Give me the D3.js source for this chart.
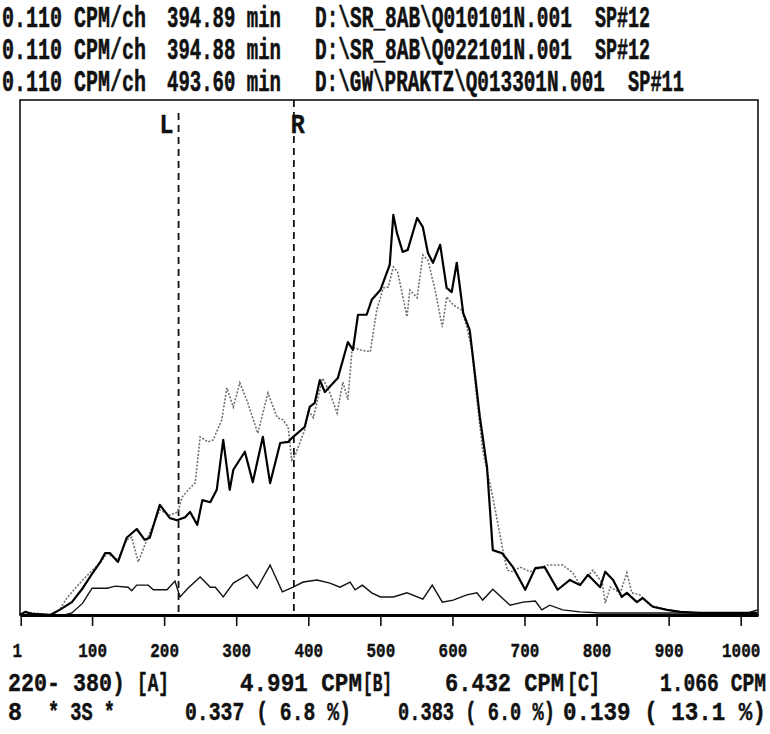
<!DOCTYPE html>
<html><head><meta charset="utf-8">
<script src="https://cdn.jsdelivr.net/npm/d3@7"></script>
<style>body{margin:0;background:#fff}svg{display:block}</style>
</head><body>
<svg id="c" width="770" height="734"></svg>
<script>
// ---------- data ----------
const headerRates   = ["0.110 CPM/ch", "0.110 CPM/ch", "0.110 CPM/ch"];
const headerTimes   = ["394.89 min", "394.88 min", "493.60 min"];
const headerFiles   = ["D:\\SR_8AB\\Q010101N.001", "D:\\SR_8AB\\Q022101N.001", "D:\\GW\\PRAKTZ\\Q013301N.001"];
const headerSpectra = ["SP#12", "SP#12", "SP#11"];

const tickValues = [1, 100, 200, 300, 400, 500, 600, 700, 800, 900, 1000];
const roiL = 220, roiR = 380;

const mainCh = [0,7,17,42,55,72,87,101,111,118,125,136,148,162,173,180,194,208,218,229,236,246,253,264,273,282,291,296,312,323,337,347,361,372,379,395,402,409,416,423,441,455,462,469,481,488,500,513,518,523,531,538,551,559,566,573,583,592,599,606,615,624,631,638,648,656,669,684,701,715,728,746,763,777,788,805,812,823,835,842,856,864,878,898,916,944,1023];
const mainCounts = [0,0.6,0.2,0,1.0,2.5,5.2,8.2,10.2,12.0,12.0,10.3,15.0,16.7,14.6,15.0,21.4,18.8,18.4,19.0,20.0,17.5,22.3,21.9,24.3,34.0,24.3,28.2,31.7,25.8,34.6,25.6,33.4,33.6,34.6,36.5,40.4,41.2,45.6,43.3,46.0,53.0,51.5,58.3,58.3,61.2,63.1,68.0,77.7,74.2,70.5,70.9,77.1,75.3,70.3,68.4,71.9,63.5,62.7,68.4,58.6,55.3,47.0,38.5,28.7,12.6,12.0,9.3,4.9,9.1,9.3,4.9,6.8,5.8,7.8,5.4,8.4,6.8,3.5,4.3,2.5,3.3,1.6,1.0,0.6,0.4,0.4];

const dupCh = [0,7,42,55,65,83,97,111,121,136,148,155,164,176,194,208,219,225,236,243,250,261,268,280,287,296,305,316,330,344,357,365,372,377,382,386,395,400,407,420,430,440,448,455,461,472,486,495,504,511,518,524,537,541,551,559,566,576,586,592,601,613,620,627,634,642,656,670,676,684,694,708,731,753,767,777,795,808,812,819,833,842,849,860,874,898,930,1023];
const dupCounts = [0,0.6,0,1.0,3.3,6.2,8.2,10.1,12.0,10.7,14.6,15.1,10.3,14.6,20.4,19.4,20.0,22.9,24.7,25.6,34.6,33.6,34.0,37.9,44.1,40.4,45.1,41.2,35.3,43.1,38.3,37.9,36.5,30.1,31.1,32.6,35.9,39.8,38.3,46.0,43.1,39.2,45.2,41.8,52.0,51.5,51.1,59.2,63.5,63.7,67.6,66.6,57.9,63.1,61.6,69.9,68.9,63.1,55.9,61.8,60.2,59.2,55.9,51.5,41.8,32.0,22.9,12.6,8.7,8.4,9.3,8.4,9.7,9.7,8.2,5.8,8.7,6.2,2.3,5.4,4.3,8.2,4.3,3.9,1.9,1.0,0.4,0.4];

const bkgCh = [0,7,17,62,72,87,100,121,132,150,155,162,178,185,204,215,222,233,250,264,271,282,296,315,329,347,364,379,393,412,430,444,458,465,475,488,500,518,537,559,572,586,601,620,634,642,656,680,698,715,724,735,753,777,805,1010,1023];
const bkgCounts = [0,0.6,0.2,0,0.4,2.3,5.2,5.2,5.6,5.4,4.7,5.8,5.8,4.9,4.9,6.6,3.5,5.2,7.4,5.4,5.4,3.5,6.2,7.8,5.2,9.7,4.5,5.4,6.4,6.8,6.2,5.4,6.4,4.9,5.8,4.3,3.5,3.5,4.3,3.1,5.8,2.5,2.9,3.9,4.3,2.9,5.0,1.9,2.5,2.7,1.0,1.9,1.0,0.6,0.4,0.4,1.0];

const roiRange  = "220- 380)";
const roiLabels = ["[A]", "[B]", "[C]"];
const roiRates  = ["4.991 CPM", "6.432 CPM", "1.066 CPM"];
const sigmaLabel = ["8", "* 3S *"];
const roiErrors = ["0.337 ( 6.8 %)", "0.383 ( 6.0 %)", "0.139 ( 13.1 %)"];

// ---------- layout ----------
const svg = d3.select("#c");
const L = 20, R = 758, T = 100, B = 615;
const x = d3.scaleLinear().domain([0, 1024]).range([L, R]);
const y = d3.scaleLinear().domain([0, 100]).range([B, T]);
const FONT = "'Liberation Mono', 'DejaVu Sans Mono', monospace";
const CAP = 0.62;

// monospace text fitted to a width, stretched vertically to a cap height
function txt(s, x0, x1, base, cap) {
  const size = (x1 - x0) / (s.length * 0.6);
  const sy = cap / (size * CAP);
  svg.append("text")
    .attr("transform", `translate(${x0},${base}) scale(1,${sy.toFixed(3)})`)
    .attr("font-family", FONT).attr("font-weight", "bold")
    .attr("font-size", size.toFixed(2)).attr("fill", "#111")
    .attr("stroke", "#111").attr("stroke-width", 0.35)
    .text(s);
}

// header
const hBase = [27, 59, 91];
const hFileEnd = [572, 572, 605];
const hSpX = [[595, 650], [595, 650], [628, 684]];
for (let i = 0; i < 3; i++) {
  txt(headerRates[i], 2, 146, hBase[i], 18);
  txt(headerTimes[i], 167, 281, hBase[i], 18);
  txt(headerFiles[i], 315, hFileEnd[i], hBase[i], 18);
  txt(headerSpectra[i], hSpX[i][0], hSpX[i][1], hBase[i], 18);
}

// frame
svg.append("rect").attr("x", L).attr("y", T).attr("width", R - L).attr("height", B - T)
  .attr("fill", "none").attr("stroke", "#111").attr("stroke-width", 1.6);

// ROI markers
[roiL, roiR].forEach((c, i) => {
  svg.append("line").attr("x1", x(c)).attr("x2", x(c))
    .attr("y1", i === 0 ? 113 : T).attr("y2", B)
    .attr("stroke", "#111").attr("stroke-width", 1.8).attr("stroke-dasharray", "7,5");
});
txt("L", x(roiL) - 19, x(roiL) - 5, 133, 17);
txt("R", x(roiR) - 3, x(roiR) + 11, 133, 17);

// series
const line = d3.line().x(d => x(d[0])).y(d => y(d[1]));
const zip = (a, b) => a.map((v, i) => [v, b[i]]);
svg.append("path").datum(zip(dupCh, dupCounts)).attr("d", line)
  .attr("fill", "none").attr("stroke", "#707070").attr("stroke-width", 1.6)
  .attr("stroke-dasharray", "2,1.6");
svg.append("path").datum(zip(bkgCh, bkgCounts)).attr("d", line)
  .attr("fill", "none").attr("stroke", "#111").attr("stroke-width", 1.4);
svg.append("path").datum(zip(mainCh, mainCounts)).attr("d", line)
  .attr("fill", "none").attr("stroke", "#000").attr("stroke-width", 2.2)
  .attr("stroke-linejoin", "round");

// x axis
const TSY = 1.3;
const ax = svg.append("g").attr("transform", `translate(0,${B})`)
  .call(d3.axisBottom(x).tickValues(tickValues).tickSize(11).tickSizeOuter(0).tickFormat(d3.format("d")));
ax.select(".domain").attr("stroke", "#000").attr("stroke-width", 3);
ax.selectAll(".tick line").attr("stroke", "#111").attr("stroke-width", 1.6);
ax.selectAll(".tick text")
  .attr("font-family", FONT).attr("font-weight", "bold").attr("font-size", 16).attr("fill", "#111")
  .attr("stroke", "#111").attr("stroke-width", 0.3)
  .attr("dy", 0).attr("y", (42 / TSY).toFixed(2))
  .attr("transform", `scale(1,${TSY})`)
  .attr("dx", d => d === 1 ? -4 : 0);

// bottom summary rows
txt(roiRange, 8, 125, 691, 16);
txt(roiLabels[0], 137, 169, 691, 16);
txt(roiRates[0], 240, 362, 691, 16);
txt(roiLabels[1], 363, 392, 691, 16);
txt(roiRates[1], 445, 564, 691, 16);
txt(roiLabels[2], 567, 600, 691, 16);
txt(roiRates[2], 660, 766, 691, 16);

txt(sigmaLabel[0], 8, 22, 720, 16.5);
txt(sigmaLabel[1], 48, 115, 720, 16.5);
txt(roiErrors[0], 185, 351, 720, 16.5);
txt(roiErrors[1], 398, 555, 720, 16.5);
txt(roiErrors[2], 563, 766, 720, 16.5);
</script>
</body></html>
